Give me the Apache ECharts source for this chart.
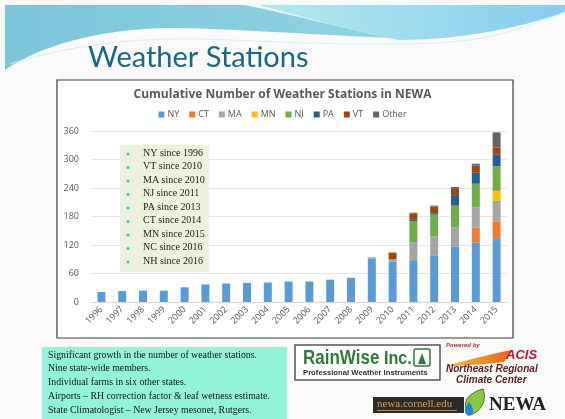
<!DOCTYPE html>
<html>
<head>
<meta charset="utf-8">
<script src="https://cdn.jsdelivr.net/npm/echarts@6/dist/echarts.min.js"></script>
<style>
  html, body { margin: 0; padding: 0; background: #fff; }
  #main { width: 565px; height: 419px; }
</style>
</head>
<body>
<div id="main"></div>
<script>
// data
var years = ['1996','1997','1998','1999','2000','2001','2002','2003','2004','2005',
             '2006','2007','2008','2009','2010','2011','2012','2013','2014','2015'];
var ny    = [21,23,24,24,31,37,39,40,41,43,43,47,51,92,85,88,98,116,125,133];
var ct    = [0,0,0,0,0,0,0,0,0,0,0,0,0,0,0,0,1,0,32,37];
var ma    = [0,0,0,0,0,0,0,0,0,0,0,0,0,2,5,37,39,41,42,44];
var mn    = [0,0,0,0,0,0,0,0,0,0,0,0,0,0,0,0,0,0,0,20];
var nj    = [0,0,0,0,0,0,0,0,0,0,0,0,0,0,0,45,46,46,50,52];
var pa    = [0,0,0,0,0,0,0,0,0,0,0,0,0,0,0,3,3,22,23,24];
var vt    = [0,0,0,0,0,0,0,0,0,0,0,0,0,0,14,13,14,13,15,15];
var other = [0,0,0,0,0,0,0,0,0,0,0,0,0,0,0,2,2,4,4,32];

var seriesNames = ['NY','CT','MA','MN','NJ','PA','VT','Other'];
var seriesData  = [ny, ct, ma, mn, nj, pa, vt, other];
var colors = ['#5b9bd5','#ed7d31','#a5a5a5','#ffc000','#70ad47','#255e91','#9e480e','#636363'];

var memberLines = ['NY since 1996','VT since 2010','MA since 2010','NJ since 2011','PA since 2013',
                   'CT since 2014','MN since 2015','NC since 2016','NH since 2016'];
var noteLines = ['Significant growth in the number of weather stations.',
                 'Nine state-wide members.',
                 'Individual farms in six other states.',
                 'Airports \u2013 RH correction factor & leaf wetness estimate.',
                 'State Climatologist \u2013 New Jersey mesonet, Rutgers.'];

var myChart = echarts.init(document.getElementById('main'));

var serif = '"Liberation Serif", "DejaVu Serif", serif';
var sans = '"Liberation Sans", Arial, sans-serif';

// graphic component has no plain "path", so register each outline as a shape
function pathShape(name, d) {
  echarts.graphic.registerShape(name, echarts.graphic.extendPath(d, {}));
  return name;
}
pathShape('bannerLeft', 'M5,5 L245,5 C300,16 350,30 392,38 C300,34 220,28 165,28 C95,30 40,46 5,70 Z');
pathShape('bannerRight', 'M258,5 L565,5 L565,12 C520,28 460,40 398,40 C350,30 300,16 258,5 Z');
pathShape('bannerLine', 'M10,64 C80,42 150,36 230,40 C320,44 400,46 450,42 C500,38 540,22 565,12');
pathShape('acisSwoosh', 'M444,366 C470,360 490,354 512,350 L504,362 C486,364 466,366 444,366 Z');
pathShape('newaLeaf', 'M470,415 C461,405 465,394 483,389 C487,400 482,411 470,415 Z');
pathShape('newaDrop', 'M469,402 C464,408 463,414 469,416 C475,414 474,408 469,402 Z');
pathShape('rainwiseIcon', 'M418,364 L422,353 L426,364 Z');

var graphics = [
  { type: 'rect', z: -10, shape: { x: 0, y: 0, width: 565, height: 419 }, style: { fill: '#fafafa' } },
  { type: 'bannerLeft', z: -9,
    style: { fill: new echarts.graphic.LinearGradient(0, 0, 1, 0, [
      { offset: 0, color: '#7cc6dc' }, { offset: 1, color: '#8fd4e2' }]) } },
  { type: 'bannerRight', z: -9,
    style: { fill: new echarts.graphic.LinearGradient(0, 0, 1, 0, [
      { offset: 0, color: '#b5e8ec' }, { offset: 1, color: '#86cdef' }]) } },
  { type: 'bannerLine', z: -8, style: { fill: null, stroke: '#d5eef3', lineWidth: 1 } },
  { type: 'text', left: 88, top: 43,
    style: { text: 'Weather Stations', font: '29px Lato, "Open Sans", sans-serif', fill: '#1a6782' } },

  // chart frame
  { type: 'rect', z: -5, shape: { x: 57, y: 80, width: 456, height: 258 },
    style: { fill: '#ffffff', stroke: '#3a3a3a', lineWidth: 1.2 } },

  // member inset box
  { type: 'rect', z: 10, shape: { x: 120, y: 145, width: 89, height: 127 }, style: { fill: '#eef1dd' } },

  // notes box
  { type: 'rect', z: 10, shape: { x: 42, y: 347, width: 245, height: 72 }, style: { fill: '#93f3d9' } },

  // RainWise logo (text squeezed horizontally, no narrow font here)
  { type: 'rect', z: 10, shape: { x: 295, y: 345, width: 145, height: 35 },
    style: { fill: '#ffffff', stroke: '#555555', lineWidth: 1.5 } },
  { type: 'text', z: 11, x: 303, y: 348, scaleX: 0.85,
    style: { text: 'RainWise', font: 'bold 20px ' + sans, fill: '#2f7a3c' } },
  { type: 'text', z: 11, x: 384, y: 349, scaleX: 0.85,
    style: { text: 'Inc.', font: 'bold 19px ' + sans, fill: '#2f7a3c' } },
  { type: 'rect', z: 11, shape: { x: 414, y: 349, width: 16, height: 17, r: 2 },
    style: { fill: '#ffffff', stroke: '#2f7a3c', lineWidth: 1.5 } },
  { type: 'rainwiseIcon', z: 12, style: { fill: '#2f7a3c' } },
  { type: 'text', z: 11, left: 303, top: 369,
    style: { text: 'Professional Weather Instruments', font: 'bold 7.7px ' + sans, fill: '#333333' } },

  // ACIS logo
  { type: 'text', z: 11, left: 446, top: 342,
    style: { text: 'Powered by', font: 'italic bold 6px ' + sans, fill: '#c0282d' } },
  { type: 'acisSwoosh', z: 11,
    style: { fill: new echarts.graphic.LinearGradient(0, 0, 1, 0, [
      { offset: 0, color: '#f6c33a' }, { offset: 1, color: '#e8631e' }]) } },
  { type: 'text', z: 11, left: 506, top: 349,
    style: { text: 'ACIS', font: 'italic bold 13px ' + sans, fill: '#c8102e' } },
  { type: 'text', z: 11, left: 446, top: 364,
    style: { text: 'Northeast Regional', font: 'italic bold 10px ' + sans, fill: '#5a2320' } },
  { type: 'text', z: 11, left: 456, top: 375,
    style: { text: 'Climate Center', font: 'italic bold 10px ' + sans, fill: '#5a2320' } },

  // newa link and logo
  { type: 'rect', z: 11, shape: { x: 373, y: 397, width: 91, height: 16 }, style: { fill: '#2b2b2b' } },
  { type: 'text', z: 12, left: 377, top: 399,
    style: { text: 'newa.cornell.edu', font: '11px ' + serif, fill: '#e0a040' } },
  { type: 'line', z: 12, shape: { x1: 377, y1: 410.5, x2: 457, y2: 410.5 }, style: { stroke: '#e0a040', lineWidth: 0.8 } },
  { type: 'newaLeaf', z: 11, style: { fill: '#8cc63f', stroke: '#3d7a2a', lineWidth: 1 } },
  { type: 'newaDrop', z: 12, style: { fill: '#1e8bd1' } },
  { type: 'text', z: 11, left: 489, top: 396,
    style: { text: 'NEWA', font: 'bold 19px ' + serif, fill: '#222222' } }
];

memberLines.forEach(function (t, i) {
  var y = 154 + i * 13.5;
  graphics.push({ type: 'circle', z: 11, shape: { cx: 128, cy: y, r: 1.6 }, style: { fill: '#22c9d8' } });
  graphics.push({ type: 'text', z: 11, left: 143, top: y - 6,
    style: { text: t, font: '10px ' + serif, fill: '#222222' } });
});

noteLines.forEach(function (t, i) {
  graphics.push({ type: 'text', z: 11, left: 48, top: 350 + i * 13.8,
    style: { text: t, font: '9.8px ' + serif, fill: '#111111' } });
});

var series = seriesNames.map(function (name, i) {
  return {
    name: name,
    type: 'bar',
    stack: 'total',
    barWidth: 8,
    itemStyle: { color: colors[i] },
    data: seriesData[i]
  };
});

var option = {
  animation: false,
  color: colors,
  title: {
    text: 'Cumulative Number of Weather Stations in NEWA',
    left: 'center',
    top: 84,
    textStyle: { fontFamily: '"Open Sans", sans-serif', fontSize: 12, fontWeight: 'bold', color: '#595959' }
  },
  legend: {
    data: seriesNames,
    top: 105,
    left: 'center',
    itemWidth: 6,
    itemHeight: 6,
    itemGap: 10,
    icon: 'rect',
    textStyle: { fontFamily: '"Open Sans", sans-serif', fontSize: 9, color: '#595959', padding: [0, 0, 0, -2] }
  },
  grid: { left: 91, right: 58, top: 131, bottom: 117 },
  xAxis: {
    type: 'category',
    data: years,
    axisLine: { lineStyle: { color: '#d9d9d9' } },
    axisTick: { show: false },
    axisLabel: { rotate: 45, fontSize: 9, color: '#595959', margin: 6, interval: 0,
                 fontFamily: '"Open Sans", sans-serif' }
  },
  yAxis: {
    type: 'value',
    min: 0,
    max: 360,
    interval: 60,
    axisLine: { show: false },
    axisTick: { show: false },
    splitLine: { lineStyle: { color: '#e6e6e6' } },
    axisLabel: { fontSize: 9, color: '#595959', margin: 12, fontFamily: '"Open Sans", sans-serif' }
  },
  graphic: graphics,
  series: series
};

myChart.setOption(option);
</script>
</body>
</html>
